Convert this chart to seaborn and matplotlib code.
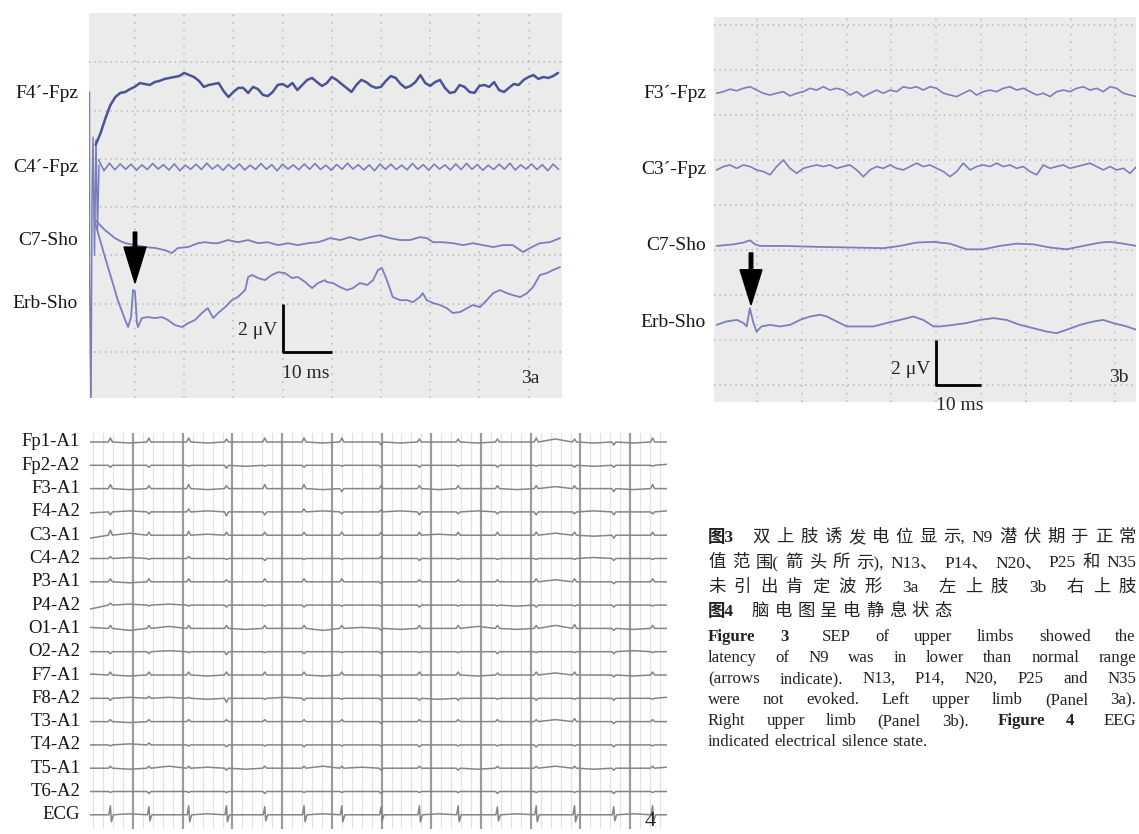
import numpy as np
import pandas as pd
import matplotlib
matplotlib.use("Agg")
import matplotlib.pyplot as plt
import seaborn as sns
from matplotlib.patches import FancyArrow
from matplotlib.transforms import blended_transform_factory

W, H = 1139, 834

# ---------------- Fig 3a : left upper limb SEP (time in ms, amplitude in uV) ----------------
sep3a_channels = ["F4´-Fpz", "C4´-Fpz", "C7-Sho", "Erb-Sho"]
sep3a_offsets = [11.06, 7.66, 4.43, 2.03]

# F4'-Fpz sampled every 1 ms from 2 ms
f4_3a = [-2.48, -1.99, -1.37, -0.83, -0.50, -0.33, -0.29, -0.17,
         -0.07, 0.08, 0.04, 0.00, 0.12, 0.17, 0.25, 0.29, 0.33, 0.37,
         0.50, 0.41, 0.33, 0.17, -0.08, 0.00, 0.04, 0.08, -0.25, -0.50,
         -0.29, -0.12, -0.12, -0.33, -0.08, -0.17, -0.41, -0.46, -0.29, 0.00,
         0.04, -0.08, 0.08, -0.21, 0.00, 0.21, 0.29, 0.12, -0.04, 0.08,
         0.33, 0.21, 0.04, -0.12, -0.29, 0.00, 0.21, 0.12, -0.04, -0.12,
         -0.08, 0.17, 0.37, 0.29, 0.04, -0.12, -0.04, 0.12, 0.41, 0.08,
         -0.04, 0.12, 0.21, -0.12, -0.33, -0.29, 0.00, -0.08, -0.29, -0.33,
         -0.04, 0.00, -0.08, 0.12, -0.21, -0.29, -0.12, 0.04, 0.00, 0.21,
         0.33, 0.41, 0.25, 0.33, 0.29, 0.37, 0.50]

# C4'-Fpz peaks/troughs every 1.1 ms from 2.6 ms
c4_3a = [0.30, -0.15, 0.16, -0.11, 0.13, -0.09, 0.12, -0.13, 0.09, -0.10,
         0.15, -0.08, 0.10, -0.12, 0.13, -0.15, 0.08, -0.09, 0.12, -0.10,
         0.16, -0.08, 0.09, -0.13, 0.11, -0.09, 0.13, -0.12, 0.08, -0.10,
         0.15, -0.09, 0.10, -0.15, 0.12, -0.08, 0.09, -0.11, 0.13, -0.09,
         0.15, -0.10, 0.08, -0.13, 0.11, -0.09, 0.16, -0.08, 0.10, -0.12,
         0.09, -0.15, 0.13, -0.09, 0.12, -0.10, 0.08, -0.11, 0.15, -0.09,
         0.10, -0.13, 0.12, -0.08, 0.09, -0.12, 0.13, -0.10, 0.15, -0.09,
         0.11, -0.13, 0.08, -0.10, 0.12, -0.09, 0.16, -0.12, 0.09, -0.08,
         0.13, -0.10, 0.10, -0.15, 0.12, -0.09]

c7_3a_t = [1.9, 2.9, 3.9, 4.9, 5.9, 7.0, 8.0, 10.0, 12.0, 14.1,
           16.1, 17.5, 18.7, 20.8, 22.8, 24.2, 25.7, 26.9, 28.9, 30.9,
           33.0, 35.0, 37.0, 39.1, 41.1, 43.1, 45.2, 47.2, 48.6, 49.6,
           51.7, 53.7, 55.7, 57.8, 59.8, 61.8, 63.9, 65.9, 67.9, 69.3,
           70.6, 72.6, 74.6, 76.7, 78.7, 80.7, 82.8, 84.8, 86.8, 88.9,
           90.3, 92.3, 94.3, 96.4]
c7_3a_v = [1.04, 0.83, 0.62, 0.46, 0.29, 0.17, 0.08, 0.00, -0.08, -0.12,
           -0.21, -0.33, -0.12, -0.08, 0.08, 0.12, 0.08, 0.08, 0.21, 0.12,
           0.21, 0.08, 0.12, 0.00, 0.08, 0.00, 0.08, 0.12, 0.21, 0.29,
           0.21, 0.33, 0.21, 0.33, 0.41, 0.29, 0.21, 0.21, 0.33, 0.29,
           0.12, 0.12, 0.08, 0.00, 0.08, 0.00, -0.08, 0.00, 0.00, -0.29,
           -0.12, 0.08, 0.12, 0.29]

erb_3a_t = [1.9, 2.9, 3.9, 5.3, 6.5, 8.0, 8.6, 9.2, 9.6, 10.0,
            10.4, 10.6, 11.4, 12.6, 14.1, 15.5, 16.7, 18.1, 19.6, 20.8,
            22.2, 23.6, 24.8, 25.9, 26.9, 28.3, 29.7, 30.9, 32.4, 33.0,
            33.8, 35.0, 36.4, 37.8, 39.1, 40.5, 41.9, 43.1, 44.6, 46.0,
            47.2, 48.6, 49.0, 50.2, 51.7, 53.1, 54.3, 55.7, 57.2, 58.4,
            59.4, 60.2, 61.2, 62.4, 63.9, 65.3, 66.5, 67.9, 68.5, 69.3,
            70.6, 72.0, 73.4, 74.6, 76.1, 77.5, 78.7, 80.1, 81.5, 82.8,
            84.2, 85.6, 86.8, 88.3, 89.7, 90.9, 92.3, 93.7, 95.0, 96.4]
erb_3a_v = [3.31, 2.61, 1.90, 0.95, 0.12, -0.70, -0.99, -0.58, 0.54, 0.46,
            -0.83, -0.99, -0.62, -0.58, -0.62, -0.58, -0.70, -0.91, -0.99, -0.83,
            -0.70, -0.41, -0.21, -0.62, -0.41, -0.17, 0.12, 0.25, 0.54, 1.08,
            1.16, 1.04, 0.95, 1.16, 1.28, 1.24, 1.04, 1.08, 0.87, 0.62,
            0.83, 0.95, 0.87, 0.83, 0.66, 0.54, 0.62, 0.83, 0.75, 0.95,
            1.37, 1.45, 0.95, 0.25, 0.12, 0.12, 0.04, 0.25, 0.41, 0.12,
            0.00, -0.08, -0.21, -0.41, -0.37, -0.21, -0.08, -0.17, 0.12, 0.41,
            0.54, 0.41, 0.33, 0.25, 0.41, 0.66, 1.16, 1.24, 1.37, 1.49]

# stimulus artefact at the start of 3a (absolute uV on the panel)
art_3a_t = [0.75, 0.75, 1.06, 1.26, 1.46, 1.77, 2.07, 2.38, 2.68]
art_3a_v = [10.77, 3.81, -2.5, 6.29, 8.90, 4.02, 8.78, 5.05, 7.74]

# ---------------- Fig 3b : right upper limb SEP ----------------
sep3b_channels = ["F3´-Fpz", "C3´-Fpz", "C7-Sho", "Erb-Sho"]
sep3b_offsets = [12.98, 9.56, 6.18, 2.76]

# F3'/C3' sampled every 1.49 ms from 1 ms
f3_3b = [-0.01, 0.06, 0.17, 0.10, 0.21, 0.28, 0.13, -0.01, -0.09, -0.01,
         0.06, -0.13, -0.01, 0.06, 0.21, 0.13, 0.28, 0.13, 0.21, 0.13,
         -0.09, 0.06, -0.16, -0.01, 0.13, -0.01, 0.13, 0.06, 0.28, 0.21,
         0.28, 0.13, 0.28, 0.21, -0.01, -0.09, -0.16, -0.01, 0.13, -0.09,
         0.06, 0.13, 0.06, 0.21, 0.28, 0.13, 0.21, 0.06, -0.09, -0.01,
         -0.16, 0.06, 0.13, 0.06, 0.21, 0.28, 0.13, 0.21, 0.06, 0.28,
         0.21, -0.01, -0.09, -0.16]
c3_3b = [0.00, 0.15, 0.22, 0.07, 0.22, 0.15, 0.00, -0.07, -0.22, 0.15,
         0.44, 0.07, -0.15, 0.07, 0.15, 0.22, 0.15, 0.22, 0.07, 0.15,
         0.22, 0.00, -0.30, 0.00, 0.15, 0.07, 0.22, 0.07, 0.00, 0.15,
         0.30, 0.15, 0.22, 0.07, -0.07, -0.30, -0.07, 0.30, 0.00, 0.15,
         0.22, 0.15, 0.30, 0.15, 0.22, 0.07, 0.15, -0.07, -0.22, 0.22,
         0.07, 0.15, 0.22, 0.07, 0.15, 0.22, 0.30, 0.15, 0.00, 0.15,
         0.00, 0.07, -0.15, 0.15]

c7_3b_t = [1.0, 4.7, 7.0, 8.4, 9.6, 10.7, 15.9, 23.3, 30.8, 38.2,
           41.9, 45.6, 49.4, 53.1, 56.8, 60.5, 64.2, 67.9, 71.7, 75.4,
           79.1, 82.8, 86.6, 88.8, 91.8, 94.7]
c7_3b_v = [0.00, 0.07, 0.15, 0.25, 0.07, 0.00, 0.00, -0.04, -0.07, -0.10,
           0.00, 0.15, 0.18, 0.10, -0.15, -0.15, 0.00, 0.10, 0.07, -0.07,
           -0.15, 0.00, 0.15, 0.18, 0.10, 0.00]

erb_3b_t = [1.0, 3.2, 5.5, 7.0, 7.7, 8.4, 9.2, 9.9, 11.0, 12.9,
            15.1, 17.4, 19.6, 21.8, 24.1, 25.6, 27.8, 30.0, 33.0, 36.0,
            38.9, 41.9, 44.9, 47.1, 49.4, 50.9, 53.8, 56.8, 59.8, 62.8,
            65.7, 68.7, 71.7, 74.7, 76.9, 79.1, 82.1, 85.1, 87.3, 89.5,
            92.5, 94.7]
erb_3b_v = [-0.09, 0.06, 0.13, -0.01, -0.16, 0.65, -0.01, -0.39, -0.16, -0.09,
            -0.16, -0.09, 0.13, 0.28, 0.36, 0.28, 0.06, -0.16, -0.16, -0.16,
            -0.01, 0.13, 0.28, 0.13, -0.16, -0.16, -0.09, -0.01, 0.13, 0.21,
            0.13, -0.09, -0.24, -0.39, -0.46, -0.31, -0.09, 0.06, 0.13, -0.01,
            -0.16, -0.31]

# ---------------- Fig 4 : EEG (time in s, deflection in display units) ----------------
eeg_channels = ["Fp1-A1", "Fp2-A2", "F3-A1", "F4-A2", "C3-A1", "C4-A2", "P3-A1", "P4-A2",
                "O1-A1", "O2-A2", "F7-A1", "F8-A2", "T3-A1", "T4-A2", "T5-A1", "T6-A2", "ECG"]
ecg_beats = [0.545, 1.32, 2.12, 2.88, 3.65, 4.44, 5.20, 5.99, 6.76, 7.54,
             8.33, 9.11, 9.88, 10.67, 11.45]
eeg_spikes = [
    [4, 4, 4, 3, 4, 4, 4, -3, 3, 3, 3, 4, 3, -3, 4],
    [-2, -2, -1, -3, -1, -2, -1, -2, -2, -1, -2, -1, -2, -2, -1],
    [4, 3, 4, 3, 4, 4, -3, 3, 3, 3, 3, 3, 3, -3, 4],
    [-3, -2, 3, -4, -3, 3, -2, 2, -3, -2, -2, -3, -2, -3, -2],
    [5, 3, 4, 3, 3, 3, 3, 3, 3, 3, 3, 3, 3, -3, 3],
    [2, -1, 2, -1, -2, -1, -1, 2, -2, -1, -1, -1, -1, -2, -1],
    [3, 3, 3, 2, 3, 3, 3, -2, 2, 2, 2, 3, 3, -2, 3],
    [2, -1, -1, -2, -1, -2, -1, -1, -2, -1, -1, -2, -1, -2, -1],
    [3, 3, 3, 3, 3, 3, 3, -2, 3, 3, 3, 3, 4, -2, 3],
    [-2, -2, -1, -3, -1, -2, -1, -2, -1, -1, -2, -1, -1, -2, -1],
    [3, 3, 3, 3, 3, 3, 3, -2, 3, 3, 2, 3, 3, -2, 3],
    [-2, 2, 1, -4, -1, -2, -1, -2, -2, -2, -1, -2, -1, -2, -1],
    [2, 2, 2, 2, 2, 2, 2, -2, 2, 2, 2, 2, 3, -2, 2],
    [-1, 2, -1, -2, -1, -2, -1, -1, -2, -1, -1, -2, -1, -2, -1],
    [2, 2, 2, -2, 2, 2, 2, -2, 2, -2, 2, 2, 2, -2, 2],
    [-1, -2, -1, -1, -2, -1, -1, -2, -1, -1, -2, -1, -1, -2, -1],
    [9, 8, 9, 9, 8, 9, 9, 8, 9, 9, 8, 9, 9, 8, 9],
]
ecg_trough = [-7, -6, -7, -7, -6, -7, -7, -6, -7, -7, -6, -7, -7, -6, -7]
# baseline between beats: left edge, 14 inter-beat values, right edge
eeg_mids = [
    [0, -1, 0, -1, 0, 0, -1, 0, -1, 0, -1, 0, 3, -1, -1, 0],
    [0, 0, 0, 0, -1, 0, 0, 0, 0, 0, 0, 0, 0, -1, 0, 1],
    [0, -1, 0, -1, 0, 0, -1, 0, 0, -1, 0, -1, 2, 0, -1, 0],
    [-1, 1, 0, 1, 0, 0, 1, 0, 1, 0, 1, 0, 0, 1, 0, 1],
    [-3, 2, 0, 1, 0, 0, 0, 0, 0, 1, 0, 0, 2, -1, 0, 0],
    [0, 1, 0, 0, 0, 0, 0, 0, 0, 0, 0, 0, 0, 1, 0, 0],
    [0, -1, 0, 0, 0, 0, 0, 0, 0, 0, 0, 0, 2, 0, 0, 0],
    [-4, 1, 1, 0, 0, 0, 0, 0, 0, 0, 0, -1, 0, 0, 0, 0],
    [1, -2, 2, 0, -1, 0, -2, 1, -1, 0, 2, -1, 3, 0, -1, 0],
    [0, 0, 1, 0, 0, 0, 0, 0, 0, 0, 0, 0, 0, 0, 1, 0],
    [1, -1, 0, -1, 0, 0, -1, 0, 0, 0, -1, 0, 2, 0, -1, 0],
    [0, 1, 1, -1, 0, 1, 0, 0, 0, -1, 0, 0, 0, 0, 0, 1],
    [0, -1, 0, 0, 0, 0, 0, 0, 0, 0, 0, 0, 2, 0, 0, 0],
    [0, 1, 0, 0, 0, 0, 0, 0, 0, 0, 0, 0, 0, 0, 0, 0],
    [0, -1, 2, 1, -1, 0, 2, 1, 0, 0, -1, 0, 2, -1, 0, 1],
    [0, 0, 0, 0, 0, 0, 0, 0, 0, 0, 0, 0, 0, 0, 0, 0],
    [0, 1, 0, 1, 0, 0, 1, 0, 0, 1, 0, 1, 0, 0, 1, 0],
]

# ---------------- caption ----------------
cap_cn = [
    [("图3", True, False), ("双", False, True)] + [(c, False, False) for c in "上肢诱发电位显"]
    + [("示,", False, False), ("N9", False, False)] + [(c, False, False) for c in "潜伏期于正常"],
    [(c, False, False) for c in "值范"] + [("围(", False, False)] + [(c, False, False) for c in "箭头所"]
    + [("示),", False, False), ("N13、", False, False), ("P14、", False, False), ("N20、", False, False),
       ("P25", False, False), ("和", False, False), ("N35", False, False)],
    [(c, False, False) for c in "未引出肯定波形"] + [("3a", False, True), ("左", False, True), ("上", False, False),
       ("肢", False, False), ("3b", False, True), ("右", False, True), ("上", False, False), ("肢", False, False)],
    [("图4", True, False), ("脑", False, True)] + [(c, False, False) for c in "电图呈电静息状态"],
]
cap_en = [
    [("Figure", True, False), ("3", True, False), ("SEP", False, True)] + [(w, False, False) for w in "of upper limbs showed the".split()],
    [(w, False, False) for w in "latency of N9 was in lower than normal range".split()],
    [(w, False, False) for w in "(arrows indicate). N13, P14, N20, P25 and N35".split()],
    [(w, False, False) for w in "were not evoked. Left upper limb (Panel 3a).".split()],
    [(w, False, False) for w in "Right upper limb (Panel 3b).".split()]
    + [("Figure", True, True), ("4", True, False), ("EEG", False, True)],
    [(w, False, False) for w in "indicated electrical silence state.".split()],
]

sns.set_theme(style="white")
plt.rcParams["font.family"] = ["Liberation Serif", "Noto Sans CJK SC", "DejaVu Sans"]

fig = plt.figure(figsize=(W / 100, H / 100), dpi=100)
fig.patch.set_facecolor("white")
renderer = fig.canvas.get_renderer()


def px_axes(x0, y0, x1, y1):
    return fig.add_axes([x0 / W, 1 - y1 / H, (x1 - x0) / W, (y1 - y0) / H])


def clean(ax):
    ax.set_xticks([])
    ax.set_yticks([])
    ax.set_xlabel("")
    ax.set_ylabel("")
    for s in ax.spines.values():
        s.set_visible(False)


def sep_grid(ax, xlim, ylim, ygrid):
    ax.set_facecolor("#ebebeb")
    for gx in range(10, 100, 10):
        ax.axvline(gx, color="#b9b9b9", lw=1.1, ls=(0, (1, 4)), zorder=0)
    for gy in ygrid:
        ax.axhline(gy, color="#b9b9b9", lw=1.1, ls=(0, (1, 2.5)), zorder=0)
    ax.set_xlim(*xlim)
    ax.set_ylim(*ylim)


def trace(ax, t, v, off, color, lw):
    sns.lineplot(x=np.asarray(t, float), y=np.asarray(v, float) + off, ax=ax, color=color,
                 linewidth=lw, estimator=None, sort=False, errorbar=None)


def labels(ax, names, ys, dx, size=14):
    tr = blended_transform_factory(ax.transAxes, ax.transData)
    for n, y in zip(names, ys):
        ax.text(dx, y, n, transform=tr, ha="right", va="center", fontsize=size,
                family="Liberation Serif", color="#161616")


def scale_bar(ax, t0, v0, dt, dv):
    ax.plot([t0, t0, t0 + dt], [v0 + dv, v0, v0], color="black", lw=2.0, solid_capstyle="butt", zorder=5)


SEP_DARK = "#4c5299"
SEP_LIGHT = "#7a7ebb"

# ---- panel 3a ----
ax3a = px_axes(89, 13, 562, 398)
sep_grid(ax3a, (0.65, 96.8), (-1.9, 14.04), range(0, 14, 2))
trace(ax3a, art_3a_t, art_3a_v, 0, SEP_LIGHT, 1.1)
trace(ax3a, 2 + np.arange(len(f4_3a)), f4_3a, sep3a_offsets[0], SEP_DARK, 1.8)
trace(ax3a, 2.6 + 1.1 * np.arange(len(c4_3a)), c4_3a, sep3a_offsets[1], SEP_LIGHT, 1.2)
trace(ax3a, c7_3a_t, c7_3a_v, sep3a_offsets[2], SEP_LIGHT, 1.3)
trace(ax3a, erb_3a_t, erb_3a_v, sep3a_offsets[3], SEP_LIGHT, 1.3)
ax3a.add_patch(FancyArrow(10.0, 4.97, 0, -2.11, width=0.7, head_width=4.5, head_length=1.49,
                          length_includes_head=True, color="black", zorder=6))
scale_bar(ax3a, 40, 0, 10, 2)
ax3a.text(38.9, 0.91, "2 μV", ha="right", va="center", fontsize=14)
ax3a.text(39.9, -0.87, "10 ms", ha="left", va="center", fontsize=14)
ax3a.text(88.5, -1.08, "3a", ha="left", va="center", fontsize=14)
labels(ax3a, sep3a_channels, [10.7, 7.66, 4.64, 2.03], -0.023)
clean(ax3a)

# ---- panel 3b ----
ax3b = px_axes(714, 17, 1136, 402)
sep_grid(ax3b, (0.4, 94.6), (-0.76, 16.36), range(0, 17, 2))
trace(ax3b, 1.0 + 1.488 * np.arange(len(f3_3b)), f3_3b, sep3b_offsets[0], SEP_LIGHT, 1.2)
trace(ax3b, 1.0 + 1.488 * np.arange(len(c3_3b)), c3_3b, sep3b_offsets[1], SEP_LIGHT, 1.2)
trace(ax3b, c7_3b_t, c7_3b_v, sep3b_offsets[2], SEP_LIGHT, 1.3)
trace(ax3b, erb_3b_t, erb_3b_v, sep3b_offsets[3], SEP_LIGHT, 1.3)
ax3b.add_patch(FancyArrow(8.66, 5.87, 0, -2.31, width=0.78, head_width=4.9, head_length=1.56,
                          length_includes_head=True, color="black", zorder=6))
scale_bar(ax3b, 50, 0, 10, 2)
ax3b.text(48.6, 0.67, "2 μV", ha="right", va="center", fontsize=14)
ax3b.text(50.0, -0.9, "10 ms", ha="left", va="center", fontsize=14)
ax3b.text(88.5, 0.31, "3b", ha="left", va="center", fontsize=14)
labels(ax3b, sep3b_channels, sep3b_offsets, -0.019)
clean(ax3b)

# ---- panel 4 : EEG ----
ROW_GAP = 23.3
T0, T1 = 0.135, 11.74
ax4 = px_axes(90, 433, 667, 829)
ax4.set_facecolor("white")
for k in range(1, 59):
    x = 0.2 * k
    if x < T1 and k % 5:
        ax4.axvline(x, color="#e2e2e2", lw=0.9, zorder=0)
for x in range(1, 12):
    ax4.axvline(x, color="#9c9c9c", lw=1.6, zorder=0)

rows = []
for i, ch in enumerate(eeg_channels):
    mids, spk = eeg_mids[i], eeg_spikes[i]
    pts = [(T0, mids[0])]
    for j, b in enumerate(ecg_beats):
        if j > 0:
            pts.append(((ecg_beats[j - 1] + b) / 2, mids[j]))
        if ch == "ECG":
            pts += [(b - 0.03, 0), (b, spk[j]), (b + 0.02, ecg_trough[j]), (b + 0.06, 0)]
        else:
            pts += [(b - 0.04, 0), (b, spk[j]), (b + 0.04, 0)]
    pts.append((T1, mids[-1]))
    for t, v in pts:
        rows.append({"ch": ch, "t": t, "v": v - ROW_GAP * i})
eeg_df = pd.DataFrame(rows)
sns.lineplot(data=eeg_df, x="t", y="v", units="ch", estimator=None, sort=False,
             color="#858585", linewidth=1.1, ax=ax4)
ax4.set_xlim(T0, T1)
ax4.set_ylim(-387, 9)
labels(ax4, eeg_channels, [-ROW_GAP * i for i in range(len(eeg_channels))], -0.017, size=13.5)
ax4.text(11.3, -380, "4", ha="left", va="center", fontsize=16)
clean(ax4)


# ---- caption (justified lines; x1=None keeps a plain word gap) ----
def place_line(tokens, x0, x1, yc, base_kw, wide_px, plain_gap=4.5):
    objs = []
    for s, bold, wide in tokens:
        t = fig.text(0, 1 - yc / H, s, ha="left", va="center",
                     fontweight="bold" if bold else "normal", **base_kw)
        objs.append((t, t.get_window_extent(renderer).width, wide))
    total = sum(w for _, w, _ in objs)
    n_wide = sum(1 for _, _, wd in objs[1:] if wd)
    if x1 is None:
        gap = plain_gap
    else:
        gap = (x1 - x0 - total - n_wide * wide_px) / max(len(objs) - 1, 1)
    x = x0
    for k, (t, w, wide) in enumerate(objs):
        if k > 0:
            x += gap + (wide_px if wide else 0)
        t.set_x(x / W)
        x += w


cn_kw = dict(family=["Liberation Serif", "Noto Sans CJK SC"], fontsize=12.5, color="#222222")
en_kw = dict(family="Liberation Serif", fontsize=12.2, color="#222222")
cn_y = [538, 563, 588, 612]
cn_end = [1136, 1136, 1136, 952]
for toks, y, xe in zip(cap_cn, cn_y, cn_end):
    place_line(toks, 708, xe, y, cn_kw, 12)
en_y = [637, 658, 679, 700, 721, 742]
en_end = [1136, 1136, 1136, 1136, 1136, None]
for toks, y, xe in zip(cap_en, en_y, en_end):
    place_line(toks, 708, xe, y, en_kw, 8)

fig.savefig("out.png", dpi=100)
